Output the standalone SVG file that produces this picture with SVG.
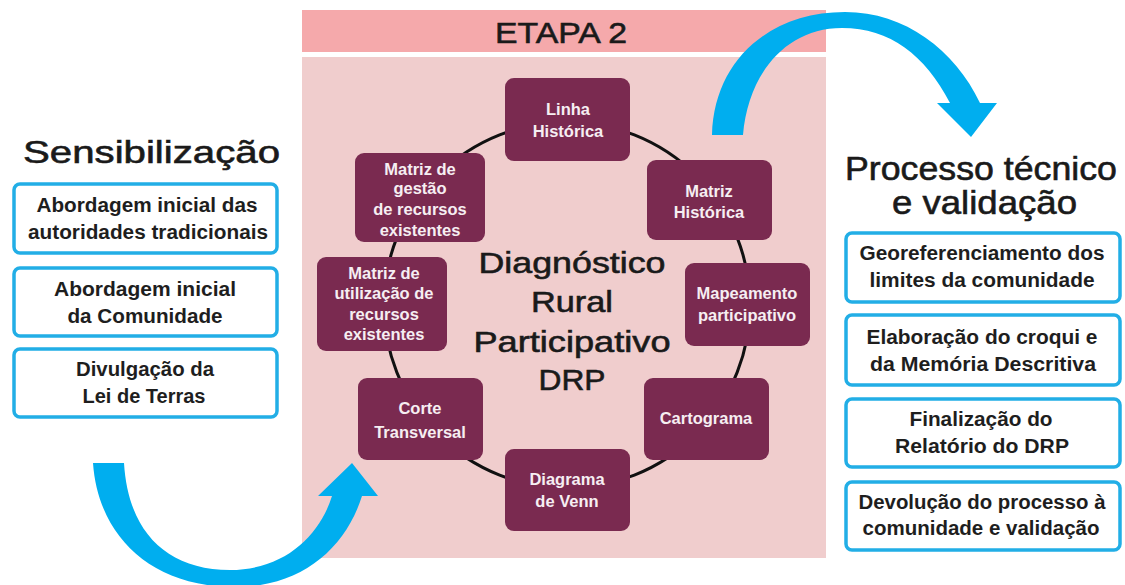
<svg xmlns="http://www.w3.org/2000/svg" width="1125" height="585" viewBox="0 0 1125 585">
<style>
.title{font-family:"Liberation Sans",Arial,sans-serif;fill:#1a1a1a;stroke:#1a1a1a;stroke-width:0.6;text-anchor:middle}
.box{fill:#ffffff;stroke:#22aee6;stroke-width:3.5}
.bt{font-family:"Liberation Sans",Arial,sans-serif;font-weight:bold;font-size:20px;fill:#1e1e1e;text-anchor:middle}
.node{fill:#7a2a50}
.nt{font-family:"Liberation Sans",Arial,sans-serif;font-weight:bold;font-size:16.5px;fill:#f6eef2;text-anchor:middle}
.arrow{fill:#00aeef}
</style>
<rect x="0" y="0" width="1125" height="585" fill="#ffffff"/>
<g id="panel">
<rect x="302" y="10" width="524" height="42" fill="#f5a9ab"/>
<rect x="302" y="57" width="524" height="501" fill="#f0cdcd"/>
<text class="title" x="561" y="43" font-size="30" textLength="132" lengthAdjust="spacingAndGlyphs">ETAPA 2</text>
</g>
<g id="connectors">
<circle cx="567" cy="305" r="183" fill="none" stroke="#111111" stroke-width="3"/>
<path class="arrow" d="M93,463 L124,463 C128,530 165,570 230,570 C285,570 320,535 332,496 L318,496 L352,463 L378,496 L362,496 C345,550 300,587 235,587 C150,587 98,535 93,463 Z"/>
<path class="arrow" d="M712,135 C714,60 770,12 845,12 C905,12 955,50 980,103 L997,103 L971,137 L937,103 L950,103 C925,55 890,28 842,28 C785,28 748,75 743,135 Z"/>
</g>
<g id="center-title">
<text class="title" x="572" y="273" font-size="30" textLength="187" lengthAdjust="spacingAndGlyphs">Diagnóstico</text>
<text class="title" x="572" y="312" font-size="30" textLength="82" lengthAdjust="spacingAndGlyphs">Rural</text>
<text class="title" x="572" y="352" font-size="30" textLength="197" lengthAdjust="spacingAndGlyphs">Participativo</text>
<text class="title" x="572" y="390" font-size="30" textLength="67" lengthAdjust="spacingAndGlyphs">DRP</text>
</g>
<g id="n-linha">
<rect class="node" x="505" y="78" width="125" height="83" rx="9"/>
<text class="nt" x="568" y="115">Linha</text>
<text class="nt" x="568" y="137">Histórica</text>
</g>
<g id="n-matriz-historica">
<rect class="node" x="647" y="160" width="125" height="80" rx="9"/>
<text class="nt" x="709" y="197">Matriz</text>
<text class="nt" x="709" y="218">Histórica</text>
</g>
<g id="n-mapeamento">
<rect class="node" x="685" y="263" width="125" height="83" rx="9"/>
<text class="nt" x="747" y="299">Mapeamento</text>
<text class="nt" x="747" y="321">participativo</text>
</g>
<g id="n-cartograma">
<rect class="node" x="644" y="378" width="125" height="82" rx="9"/>
<text class="nt" x="706" y="424">Cartograma</text>
</g>
<g id="n-venn">
<rect class="node" x="505" y="449" width="125" height="82" rx="9"/>
<text class="nt" x="567" y="485">Diagrama</text>
<text class="nt" x="567" y="507">de Venn</text>
</g>
<g id="n-corte">
<rect class="node" x="358" y="378" width="125" height="82" rx="9"/>
<text class="nt" x="420" y="414">Corte</text>
<text class="nt" x="420" y="438">Transversal</text>
</g>
<g id="n-matriz-utilizacao">
<rect class="node" x="317" y="257" width="130" height="94" rx="9"/>
<text class="nt" x="384" y="279">Matriz de</text>
<text class="nt" x="384" y="299">utilização de</text>
<text class="nt" x="384" y="320">recursos</text>
<text class="nt" x="384" y="340">existentes</text>
</g>
<g id="n-matriz-gestao">
<rect class="node" x="355" y="153" width="130" height="89" rx="9"/>
<text class="nt" x="420" y="175">Matriz de</text>
<text class="nt" x="420" y="194">gestão</text>
<text class="nt" x="420" y="215">de recursos</text>
<text class="nt" x="420" y="236">existentes</text>
</g>
<g id="sensibilizacao">
<text class="title" x="151.5" y="163" font-size="32" textLength="257" lengthAdjust="spacingAndGlyphs">Sensibilização</text>
</g>
<g id="s1">
<rect class="box" x="14" y="184" width="263" height="69" rx="6"/>
<text class="bt" x="147" y="212" textLength="221" lengthAdjust="spacingAndGlyphs">Abordagem inicial das</text>
<text class="bt" x="148" y="239" textLength="240" lengthAdjust="spacingAndGlyphs">autoridades tradicionais</text>
</g>
<g id="s2">
<rect class="box" x="14" y="268" width="263" height="68" rx="6"/>
<text class="bt" x="145" y="296" textLength="182" lengthAdjust="spacingAndGlyphs">Abordagem inicial</text>
<text class="bt" x="145" y="323" textLength="155" lengthAdjust="spacingAndGlyphs">da Comunidade</text>
</g>
<g id="s3">
<rect class="box" x="14" y="349" width="263" height="68" rx="6"/>
<text class="bt" x="145" y="376" textLength="138" lengthAdjust="spacingAndGlyphs">Divulgação da</text>
<text class="bt" x="144" y="403" textLength="123" lengthAdjust="spacingAndGlyphs">Lei de Terras</text>
</g>
<g id="processo">
<text class="title" x="981" y="180" font-size="33" textLength="272" lengthAdjust="spacingAndGlyphs">Processo técnico</text>
<text class="title" x="984.5" y="214" font-size="33" textLength="185" lengthAdjust="spacingAndGlyphs">e validação</text>
</g>
<g id="p1">
<rect class="box" x="846" y="233" width="274" height="69" rx="6"/>
<text class="bt" x="982" y="260" textLength="245" lengthAdjust="spacingAndGlyphs">Georeferenciamento dos</text>
<text class="bt" x="982" y="287" textLength="225" lengthAdjust="spacingAndGlyphs">limites da comunidade</text>
</g>
<g id="p2">
<rect class="box" x="846" y="315" width="274" height="70" rx="6"/>
<text class="bt" x="982" y="344" textLength="231" lengthAdjust="spacingAndGlyphs">Elaboração do croqui e</text>
<text class="bt" x="983" y="371" textLength="226" lengthAdjust="spacingAndGlyphs">da Memória Descritiva</text>
</g>
<g id="p3">
<rect class="box" x="846" y="399" width="274" height="68" rx="6"/>
<text class="bt" x="981" y="426" textLength="143" lengthAdjust="spacingAndGlyphs">Finalização do</text>
<text class="bt" x="982" y="453" textLength="174" lengthAdjust="spacingAndGlyphs">Relatório do DRP</text>
</g>
<g id="p4">
<rect class="box" x="846" y="482" width="274" height="68" rx="6"/>
<text class="bt" x="982" y="509" textLength="247" lengthAdjust="spacingAndGlyphs">Devolução do processo à</text>
<text class="bt" x="981" y="535" textLength="237" lengthAdjust="spacingAndGlyphs">comunidade e validação</text>
</g>
</svg>
